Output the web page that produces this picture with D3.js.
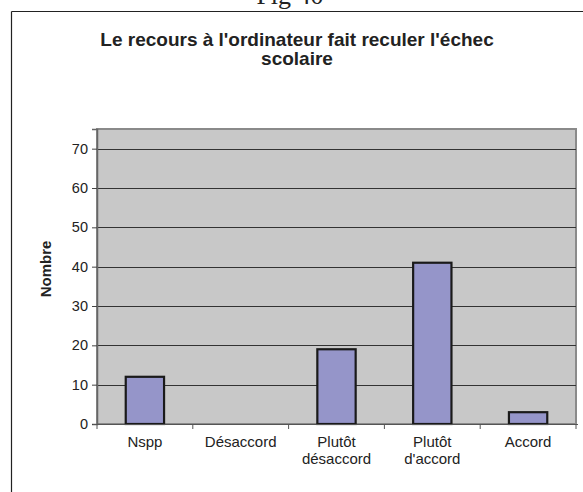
<!DOCTYPE html>
<html>
<head>
<meta charset="utf-8">
<script src="https://cdn.jsdelivr.net/npm/d3@7"></script>
<style>
  body { margin: 0; background: #fff; }
  svg { display: block; }
</style>
</head>
<body>
<div id="chart"></div>
<script>
var width = 583,
    height = 492

// data
var categories = [["Nspp"], ["Désaccord"], ["Plutôt", "désaccord"], ["Plutôt", "d'accord"], ["Accord"]]
var values = [12, 0, 19, 41, 3]
var yTicks = [0, 10, 20, 30, 40, 50, 60, 70]

var plot = {left: 97, top: 129, right: 576, bottom: 424}

var svg = d3.select("#chart")
  .append("svg")
    .attr("width", width)
    .attr("height", height)

// clipped figure caption above the frame
svg.append("text")
    .attr("x", 290)
    .attr("y", 4)
    .attr("text-anchor", "middle")
    .style("font-family", "Liberation Serif, Times New Roman, serif")
    .style("font-size", "26px")
    .style("fill", "#222")
    .text("Fig 40")

// outer chart frame (top and left only visible)
svg.append("line")
    .attr("x1", 11.5).attr("y1", 11.5).attr("x2", width).attr("y2", 11.5)
    .attr("stroke", "#222").attr("stroke-width", 1.2)
svg.append("line")
    .attr("x1", 11.5).attr("y1", 11.5).attr("x2", 11.5).attr("y2", height)
    .attr("stroke", "#222").attr("stroke-width", 1.2)

// title
var title = svg.append("text")
    .attr("text-anchor", "middle")
    .style("font-family", "Liberation Sans, Arial, sans-serif")
    .style("font-weight", "bold")
    .style("font-size", "19px")
    .style("fill", "#222")
title.append("tspan").attr("x", 297).attr("y", 46).text("Le recours à l'ordinateur fait reculer l'échec")
title.append("tspan").attr("x", 297).attr("y", 65).text("scolaire")

var x = d3.scaleBand()
  .domain(d3.range(categories.length))
  .range([plot.left, plot.right])
  .paddingInner(0.6)
  .paddingOuter(0.3)

var xBand = d3.scaleBand()
  .domain(d3.range(categories.length))
  .range([plot.left, plot.right])

var y = d3.scaleLinear()
  .domain([0, 75])
  .range([plot.bottom, plot.top])

// plot area
svg.append("rect")
    .attr("x", plot.left)
    .attr("y", plot.top)
    .attr("width", plot.right - plot.left)
    .attr("height", plot.bottom - plot.top)
    .attr("fill", "#c8c8c8")
    .attr("stroke", "#8a8a8a")
    .attr("stroke-width", 2)

// gridlines
svg.selectAll("grid")
  .data(yTicks.slice(1))
  .enter()
  .append("line")
    .attr("x1", plot.left)
    .attr("x2", plot.right)
    .attr("y1", function(d){ return Math.round(y(d)) + 0.5 })
    .attr("y2", function(d){ return Math.round(y(d)) + 0.5 })
    .attr("stroke", "#333")
    .attr("stroke-width", 1)

// bars
svg.selectAll("bars")
  .data(values)
  .enter()
  .append("rect")
    .attr("x", function(d, i){ return x(i) })
    .attr("y", function(d){ return y(d) })
    .attr("width", x.bandwidth())
    .attr("height", function(d){ return y(0) - y(d) })
    .attr("fill", "#9595c9")
    .attr("stroke", function(d){ return d > 0 ? "#1a1a1a" : "none" })
    .attr("stroke-width", 2.2)

// y axis
var yAxis = svg.append("g")
    .attr("transform", "translate(" + plot.left + ",0)")
    .call(d3.axisLeft(y).tickValues(yTicks).tickSize(5).tickPadding(4))
yAxis.select(".domain").attr("stroke", "#666").attr("stroke-width", 1.5)
yAxis.selectAll(".tick line").attr("stroke", "#444")
yAxis.selectAll("text")
    .style("font-family", "Liberation Sans, Arial, sans-serif")
    .style("font-size", "14.5px")
    .attr("fill", "#222")

// x axis
svg.append("line")
    .attr("x1", plot.left - 4).attr("x2", plot.right + 2)
    .attr("y1", plot.bottom + 0.5).attr("y2", plot.bottom + 0.5)
    .attr("stroke", "#555").attr("stroke-width", 1.2)

svg.selectAll("xticks")
  .data(d3.range(categories.length + 1))
  .enter()
  .append("line")
    .attr("x1", function(i){ return plot.left + i * xBand.step() })
    .attr("x2", function(i){ return plot.left + i * xBand.step() })
    .attr("y1", plot.bottom)
    .attr("y2", plot.bottom + 5)
    .attr("stroke", "#555")

var xlabels = svg.selectAll("xlabels")
  .data(categories)
  .enter()
  .append("text")
    .attr("text-anchor", "middle")
    .style("font-family", "Liberation Sans, Arial, sans-serif")
    .style("font-size", "15px")
    .style("fill", "#222")

xlabels.selectAll("tspan")
  .data(function(d, i){ return d.map(function(t){ return {t: t, i: i} }) })
  .enter()
  .append("tspan")
    .attr("x", function(d){ return xBand(d.i) + xBand.bandwidth() / 2 })
    .attr("y", function(d, j){ return 447 + j * 17 })
    .text(function(d){ return d.t })

// y axis title
svg.append("text")
    .attr("transform", "translate(51," + 269 + ") rotate(-90)")
    .attr("text-anchor", "middle")
    .style("font-family", "Liberation Sans, Arial, sans-serif")
    .style("font-weight", "bold")
    .style("font-size", "15px")
    .style("fill", "#222")
    .text("Nombre")
</script>
</body>
</html>
